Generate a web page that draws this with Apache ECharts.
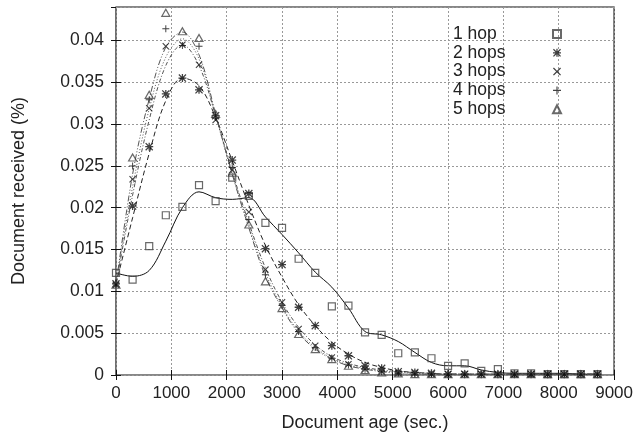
<!DOCTYPE html>
<html lang="en">
<head>
<meta charset="UTF-8">
<title>Document age</title>
<script src="https://cdn.jsdelivr.net/npm/echarts@6/dist/echarts.min.js"></script>
</head>
<body style="margin:0;background:#fff">
<div id="main" style="width:636px;height:437px;"></div>
<script>
// sample ages (sec.)
var ages = [0, 300, 600, 900, 1200, 1500, 1800, 2100, 2400, 2700, 3000, 3300, 3600, 3900, 4200,
            4500, 4800, 5100, 5400, 5700, 6000, 6300, 6600, 6900, 7200, 7500, 7800, 8100, 8400, 8700];

// measured points
var hop1 = [0.0122, 0.0114, 0.0154, 0.0191, 0.0201, 0.0227, 0.0208, 0.0236, 0.0214, 0.0182, 0.0176, 0.0139, 0.0122, 0.0082, 0.0083,
            0.0051, 0.0048, 0.0026, 0.0027, 0.0020, 0.0011, 0.0014, 0.0005, 0.0007, 0.0002, 0.0002, 0.0001, 0.0001, 0.0001, 0.0001];
var hop2 = [0.0109, 0.0202, 0.0273, 0.0336, 0.0355, 0.0341, 0.0310, 0.0257, 0.0217, 0.0151, 0.0132, 0.0081, 0.0059, 0.0035, 0.0023,
            0.0011, 0.0008, 0.0004, 0.0003, 0.0002, 0.0001, 0.0001, 0.0001, 0.0001, 0.0001, 0.0001, 0.0001, 0.0001, 0.0001, 0.0001];
var hop3 = [0.0108, 0.0234, 0.0319, 0.0393, 0.0395, 0.0371, 0.0305, 0.0245, 0.0195, 0.0126, 0.0087, 0.0055, 0.0035, 0.0021, 0.0013,
            0.0007, 0.0004, 0.0002, 0.0002, 0.0001, 0.0001, 0.0001, 0.0001, 0.0001, 0.0001, 0.0001, 0.0001, 0.0001, 0.0001, 0.0001];
var hop4 = [0.0110, 0.0250, 0.0329, 0.0414, 0.0394, 0.0393, 0.0308, 0.0248, 0.0186, 0.0120, 0.0083, 0.0052, 0.0033, 0.0020, 0.0012,
            0.0007, 0.0004, 0.0002, 0.0001, 0.0001, 0.0001, 0.0001, 0.0001, 0.0001, 0.0001, 0.0001, 0.0001, 0.0001, 0.0001, 0.0001];
var hop5 = [0.0108, 0.0260, 0.0335, 0.0433, 0.0411, 0.0403, 0.0312, 0.0242, 0.0180, 0.0112, 0.0080, 0.0049, 0.0031, 0.0019, 0.0011,
            0.0006, 0.0003, 0.0002, 0.0001, 0.0001, 0.0001, 0.0001, 0.0001, 0.0001, 0.0001, 0.0001, 0.0001, 0.0001, 0.0001, 0.0001];

// smoothed curves at the same ages
var fit1 = [0.0122, 0.0118, 0.0125, 0.0160, 0.0200, 0.0219, 0.0212, 0.0210, 0.0212, 0.0189, 0.0168, 0.0146, 0.0123, 0.0105, 0.0080,
            0.0052, 0.0048, 0.0040, 0.0027, 0.0015, 0.0011, 0.0011, 0.0006, 0.0003, 0.0002, 0.0002, 0.0002, 0.0002, 0.0001, 0.0001];
var fit2 = [0.0109, 0.0188, 0.0265, 0.0328, 0.0355, 0.0346, 0.0308, 0.0256, 0.0203, 0.0155, 0.0117, 0.0084, 0.0059, 0.0039, 0.0025,
            0.0015, 0.0009, 0.0005, 0.0003, 0.0002, 0.0001, 0.0001, 0.0001, 0.0001, 0.0001, 0.0001, 0.0001, 0.0001, 0.0001, 0.0001];
var fit3 = [0.0108, 0.0215, 0.0305, 0.0370, 0.0395, 0.0370, 0.0310, 0.0243, 0.0182, 0.0128, 0.0087, 0.0057, 0.0036, 0.0022, 0.0014,
            0.0009, 0.0006, 0.0004, 0.0003, 0.0002, 0.0001, 0.0001, 0.0001, 0.0001, 0.0001, 0.0001, 0.0001, 0.0001, 0.0001, 0.0001];
var fit4 = [0.0110, 0.0225, 0.0318, 0.0380, 0.0402, 0.0378, 0.0310, 0.0240, 0.0178, 0.0122, 0.0082, 0.0052, 0.0033, 0.0020, 0.0012,
            0.0008, 0.0005, 0.0003, 0.0002, 0.0001, 0.0001, 0.0001, 0.0001, 0.0001, 0.0001, 0.0001, 0.0001, 0.0001, 0.0001, 0.0001];
var fit5 = [0.0108, 0.0240, 0.0330, 0.0392, 0.0410, 0.0383, 0.0312, 0.0240, 0.0176, 0.0118, 0.0080, 0.0050, 0.0031, 0.0019, 0.0011,
            0.0007, 0.0004, 0.0002, 0.0001, 0.0001, 0.0001, 0.0001, 0.0001, 0.0001, 0.0001, 0.0001, 0.0001, 0.0001, 0.0001, 0.0001];

var names = ['1 hop', '2 hops', '3 hops', '4 hops', '5 hops'];

var STAR = 'path://M4.2,0H5.8V4.2H10V5.8H5.8V10H4.2V5.8H0V4.2H4.2Z' +
           'M0,1.1L1.1,0L5,3.9L8.9,0L10,1.1L6.1,5L10,8.9L8.9,10L5,6.1L1.1,10L0,8.9L3.9,5Z' +
           'M2.8,2.8H7.2V7.2H2.8Z';
var CROSS = 'path://M0,1.1L1.1,0L5,3.9L8.9,0L10,1.1L6.1,5L10,8.9L8.9,10L5,6.1L1.1,10L0,8.9L3.9,5Z';
var PLUS = 'path://M4.3,0H5.7V4.3H10V5.7H5.7V10H4.3V5.7H0V4.3H4.3Z';

function pairs(ys) {
    return ages.map(function (a, i) { return [a, ys[i]]; });
}

function fitLine(name, ys, color, dash) {
    return {
        name: name, type: 'line', data: pairs(ys), smooth: 0.35,
        showSymbol: false, silent: true, z: 2,
        lineStyle: {color: color, width: 1, type: dash}
    };
}

function points(name, ys, symbol, size, style) {
    return {
        name: name, type: 'scatter', data: pairs(ys), symbol: symbol,
        symbolSize: size, z: 3, itemStyle: style
    };
}

var open = {color: 'rgba(255,255,255,0)', borderColor: '#444', borderWidth: 1.2};

var myChart = echarts.init(document.getElementById('main'));

var option = {
    animation: false,
    textStyle: {fontFamily: 'Liberation Sans', color: '#222'},
    grid: {left: 116, right: 18, top: 7, bottom: 61, show: true, borderColor: '#111', borderWidth: 1.2},
    legend: {
        data: names, orient: 'vertical', left: 448, top: 20, align: 'right',
        itemWidth: 8, itemHeight: 8, itemGap: 0.8, selectedMode: false,
        formatter: '{t|{name}}',
        textStyle: {
            fontSize: 17.5, color: '#222',
            rich: {t: {fontSize: 17.5, width: 95, align: 'left', lineHeight: 17.5, color: '#222'}}
        }
    },
    xAxis: [{
        type: 'value', min: 0, max: 9000, interval: 1000,
        name: 'Document age (sec.)', nameLocation: 'middle', nameGap: 39,
        nameTextStyle: {fontSize: 18, color: '#222'},
        axisLine: {show: false},
        axisTick: {show: true, inside: true, length: 5, lineStyle: {color: '#111'}},
        axisLabel: {fontSize: 17, color: '#222', margin: 10, formatter: function (v) { return String(v); }},
        splitLine: {lineStyle: {color: '#999', type: [2, 2], width: 1}}
    }, {
        type: 'value', min: 0, max: 9000, interval: 1000, position: 'top',
        axisLine: {show: false}, axisLabel: {show: false}, splitLine: {show: false},
        axisTick: {show: true, inside: true, length: 5, lineStyle: {color: '#111'}}
    }],
    yAxis: [{
        type: 'value', min: 0, max: 0.044, interval: 0.005,
        name: 'Document received (%)', nameLocation: 'middle', nameGap: 88,
        nameTextStyle: {fontSize: 18, color: '#222'},
        axisLine: {show: false},
        axisTick: {show: true, inside: true, length: 5, lineStyle: {color: '#111'}},
        axisLabel: {fontSize: 17.5, color: '#222', margin: 12, showMaxLabel: false},
        splitLine: {lineStyle: {color: '#999', type: [2, 2], width: 1}}
    }, {
        type: 'value', min: 0, max: 0.044, interval: 0.005, position: 'right',
        axisLine: {show: false}, axisLabel: {show: false}, splitLine: {show: false},
        axisTick: {show: true, inside: true, length: 5, lineStyle: {color: '#111'}}
    }],
    series: [
        fitLine('fit 1', fit1, '#111', 'solid'),
        fitLine('fit 2', fit2, '#222', [5, 3]),
        fitLine('fit 3', fit3, '#555', [4, 2, 1, 2]),
        fitLine('fit 4', fit4, '#555', [1, 2]),
        fitLine('fit 5', fit5, '#555', [6, 2, 1, 2, 1, 2]),
        points(names[0], hop1, 'rect', 7, open),
        points(names[1], hop2, STAR, 8, {color: '#111'}),
        points(names[2], hop3, CROSS, 7, {color: '#111'}),
        points(names[3], hop4, PLUS, 7, {color: '#111'}),
        points(names[4], hop5, 'triangle', [8, 7], open)
    ]
};

myChart.setOption(option);
</script>
</body>
</html>
